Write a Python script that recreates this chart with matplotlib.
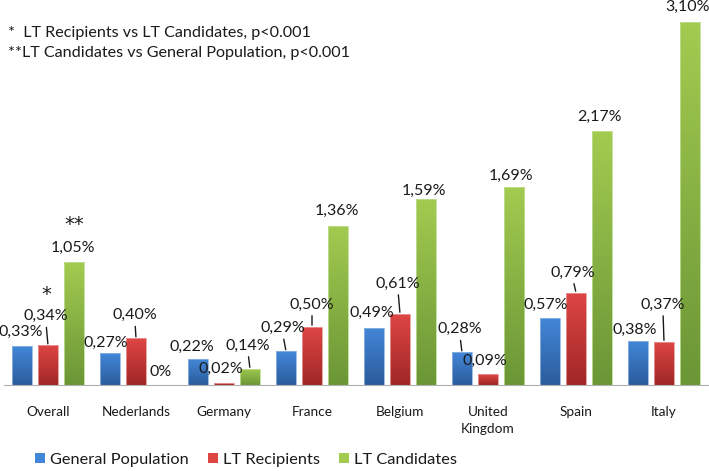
import numpy as np
import matplotlib
matplotlib.use('Agg')
import matplotlib.pyplot as plt
from matplotlib.patches import Patch
from matplotlib.colors import LinearSegmentedColormap

# data (prevalence in %)
countries = ['Overall', 'Nederlands', 'Germany', 'France', 'Belgium',
             'United\nKingdom', 'Spain', 'Italy']
general_pop = [0.33, 0.27, 0.22, 0.29, 0.49, 0.28, 0.57, 0.38]
lt_recipients = [0.34, 0.40, 0.02, 0.50, 0.61, 0.09, 0.79, 0.37]
lt_candidates = [1.05, 0.00, 0.14, 1.36, 1.59, 1.69, 2.17, 3.10]
series_names = ['General Population', 'LT Recipients', 'LT Candidates']
notes = ['*  LT Recipients vs LT Candidates, p<0.001',
         '**LT Candidates vs General Population, p<0.001']

# label offsets in pixels (dx, dy, leader line?) per series, per country
offs = [
    [(-1, 14, 0), (-4, 11, 0), (-6, 12, 0), (-3, 23, 1), (-2, 15, 0), (-2, 23, 1), (-4, 13, 0), (-3, 11, 0)],
    [(-2, 29, 1), (-1, 23, 1), (-3, 14, 0), (0, 22, 1), (-2, 30, 1), (-3, 14, 0), (-3, 20, 1), (-1, 37, 1)],
    [(-1, 14, 0), (-1, 13, 0), (-2, 23, 1), (-1, 15, 0), (-2, 8, 0), (-3, 11, 0), (-3, 14, 0), (-2, 15, 0)],
]
grads = [('#2b5c9c', '#4387d8'), ('#a02727', '#de4644'), ('#6b9636', '#a2cb50')]
edges = ['#8fb3e3', '#e89a98', '#c2dd94']

plt.rcParams['font.family'] = ['Lato', 'DejaVu Sans']

fig = plt.figure(figsize=(7.09, 4.71), dpi=100)
ax = fig.add_axes([4/709, 86/471, 704/709, 385/471])

x = np.arange(len(countries))
w = 20/88
step = 26/88
ymax = 385/117

allvals = [general_pop, lt_recipients, lt_candidates]
for s, vals in enumerate(allvals):
    bars = ax.bar(x + (s-1)*step, vals, width=w, color='none',
                  edgecolor=edges[s], linewidth=0.6, zorder=3)
    cmap = LinearSegmentedColormap.from_list('g%d' % s, grads[s])
    grad = np.linspace(0, 1, 100).reshape(-1, 1)
    for b in bars:
        h = b.get_height()
        if h <= 0:
            continue
        im = ax.imshow(grad, cmap=cmap, origin='lower', aspect='auto',
                       extent=(b.get_x(), b.get_x()+b.get_width(), 0, h), zorder=2)
        im.set_clip_path(b)
    for i, v in enumerate(vals):
        dx, dy, lead = offs[s][i]
        lbl = ('%.2f' % v).replace('.', ',') + '%' if v > 0 else '0%'
        ap = None
        if lead:
            ap = dict(arrowstyle='-', color='#1a1a1a', lw=1, relpos=(0.5, 0),
                      shrinkA=1, shrinkB=1)
        ax.annotate(lbl, xy=(x[i] + (s-1)*step, v), xytext=(dx, dy),
                    textcoords='offset pixels', ha='center', va='center',
                    fontsize=11.5, color='#1a1a1a', arrowprops=ap, zorder=5)

# significance stars on the Overall group
ax.annotate('*', xy=(0, lt_recipients[0]), xytext=(-2, 51), textcoords='offset pixels',
            ha='center', va='center', fontsize=14, color='#1a1a1a', family='DejaVu Sans')
ax.annotate('**', xy=(step, lt_candidates[0]), xytext=(0, 38), textcoords='offset pixels',
            ha='center', va='center', fontsize=14, color='#1a1a1a', family='DejaVu Sans')

ax.set_xlim(-0.5, len(countries)-0.5)
ax.set_ylim(0, ymax)
ax.set_xticks(x)
ax.set_xticklabels(countries, fontsize=9.8, color='#1a1a1a', linespacing=1.5)
ax.tick_params(axis='x', length=0, pad=15)
ax.set_yticks([])
for sp in ['top', 'left', 'right']:
    ax.spines[sp].set_visible(False)
ax.spines['bottom'].set_color('#b0b0b0')
ax.spines['bottom'].set_zorder(4)
ax.patch.set_alpha(0)

fig.text(8/709, 1-33/471, notes[0], fontsize=11.6, va='center', color='#1a1a1a')
fig.text(8/709, 1-53/471, notes[1], fontsize=11.6, va='center', color='#1a1a1a')

handles = [Patch(facecolor=grads[k][1], edgecolor='none') for k in range(3)]
fig.legend(handles, series_names, loc='center', bbox_to_anchor=(246/709, 1-460/471),
           ncol=3, frameon=False, fontsize=11.8, handlelength=0.6, handleheight=0.6,
           handletextpad=0.3, columnspacing=1.2, labelcolor='#1a1a1a')

fig.savefig('out.png', dpi=100)
